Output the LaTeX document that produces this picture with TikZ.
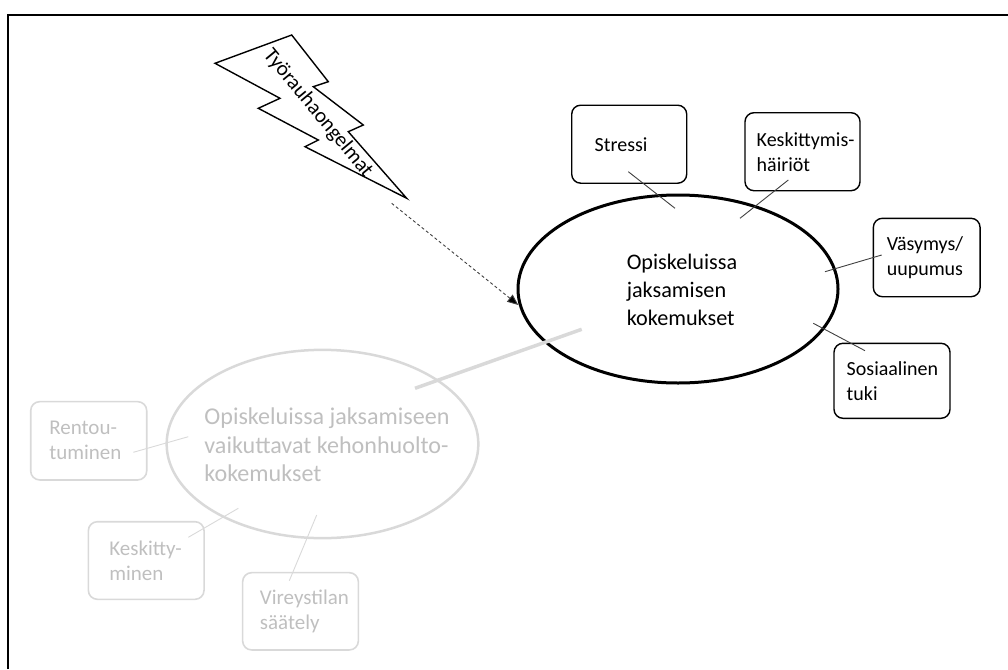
\documentclass[tikz,border=0pt]{standalone}
\usepackage{fontspec}
\setmainfont{Carlito}
\usetikzlibrary{shapes.geometric,arrows.meta}
\definecolor{linkdark}{HTML}{404040}
\definecolor{palegray}{HTML}{D9D9D9}
\definecolor{paletext}{HTML}{BFBFBF}
\tikzset{
  frameline/.style={draw=black, line width=2pt},
  bigoval/.style={ellipse, draw=black, line width=3pt, inner sep=0pt},
  paleoval/.style={ellipse, draw=palegray, line width=2.5pt, inner sep=0pt},
  bigtext/.style={align=left, inner sep=0pt, font=\fontsize{22.2}{28.3}\selectfont},
  darkbox/.style={draw=black, line width=1.4pt, rounded corners=9pt, align=left,
    inner sep=0pt, font=\fontsize{20}{25}\selectfont},
  palebox/.style={draw=palegray, line width=1.6pt, rounded corners=9pt, align=left,
    inner sep=0pt, text=paletext, font=\fontsize{21}{25}\selectfont},
  darklink/.style={draw=linkdark, line width=0.9pt},
  palelink/.style={draw=palegray, line width=0.9pt},
  bolt/.style={draw=black, line width=1.4pt, line join=miter, fill=white},
}
\begin{document}
\begin{tikzpicture}[x=1pt,y=-1pt]
\useasboundingbox (0,0) rectangle (1008,669);

% outer frame (top and left edges)
\draw[frameline] (8,669) -- (8,15) -- (1008,15);

% lightning bolt with its label
\draw[bolt] (215,63.3) -- (291.7,35) -- (328.3,81.7) -- (313.3,86.7)
  -- (363.3,125) -- (348.3,131.7) -- (406.7,198.3) -- (305,146.7)
  -- (318.3,140) -- (258.3,108.3) -- (280,98.3) -- cycle;
\node[rotate=-50.4, inner sep=0pt, font=\fontsize{21}{25}\selectfont] (bolttxt) at (318,113.5) {Työrauhaongelmat};

% central oval
\node[bigoval, minimum width=320pt, minimum height=188pt] (jak) at (678,289) {};
\node[bigtext] (jaktxt) at (682,290) {Opiskeluissa\\jaksamisen\\kokemukset};

% pale oval
\node[paleoval, minimum width=311.7pt, minimum height=188.3pt] (keho) at (322.5,444) {};
\node[bigtext, text=paletext, font=\fontsize{24.1}{28.3}\selectfont] (kehotxt) at (327,445) {Opiskeluissa jaksamiseen\\vaikuttavat kehonhuolto-\\kokemukset};

% dark boxes
\node[darkbox, minimum width=115pt, minimum height=78pt, text width=69pt] (stressi) at (629.2,144.2) {Stressi};
\node[darkbox, minimum width=115pt, minimum height=78pt, text width=91.6pt] (kesk) at (802.5,151.7) {\mbox{Keskittymis-}\\häiriöt};
\node[darkbox, minimum width=106.7pt, minimum height=78.4pt, text width=79.9pt] (vasy) at (926.7,257.5) {\mbox{Väsymys/}\\uupumus};
\node[darkbox, minimum width=116pt, minimum height=75pt, text width=90.6pt] (sosi) at (892,380.8) {\mbox{Sosiaalinen}\\tuki};

% pale boxes
\node[palebox, minimum width=116pt, minimum height=78.3pt, text width=78.8pt] (rent) at (88.7,440.8) {\mbox{Rentou-}\\tuminen};
\node[palebox, minimum width=115.7pt, minimum height=77.6pt, text width=73.7pt] (keskt) at (146.2,560.5) {\mbox{Keskitty-}\\minen};
\node[palebox, minimum width=115.7pt, minimum height=77.3pt, text width=81.1pt] (vire) at (300.5,611.3) {\mbox{Vireystilan}\\säätely};

% connector end points
\coordinate (stressi-in) at (628.3,171.7);  \coordinate (jak-s) at (675,208.3);
\coordinate (kesk-in) at (788.3,180);      \coordinate (jak-k) at (740,218.3);
\coordinate (vasy-in) at (881.7,255);      \coordinate (jak-v) at (825,271.7);
\coordinate (sosi-in) at (865,350.7);      \coordinate (jak-so) at (813.3,323.3);
\coordinate (rent-in) at (133.3,452.3);    \coordinate (keho-r) at (188.3,436.7);
\coordinate (keskt-in) at (188.3,537.3);   \coordinate (keho-k) at (238.3,508.3);
\coordinate (vire-in) at (289.3,580.7);    \coordinate (keho-v) at (316.7,515);
\coordinate (keho-j) at (415,388.3);       \coordinate (jak-p) at (581.7,329.3);
\coordinate (bolt-tip) at (391.7,203.3);   \coordinate (jak-b) at (518.3,305);

% dark connectors
\draw[darklink] (stressi-in) -- (jak-s);
\draw[darklink] (kesk-in) -- (jak-k);
\draw[darklink] (vasy-in) -- (jak-v);
\draw[darklink] (sosi-in) -- (jak-so);

% pale connectors
\draw[palelink] (rent-in) -- (keho-r);
\draw[palelink] (keskt-in) -- (keho-k);
\draw[palelink] (vire-in) -- (keho-v);
\draw[draw=palegray, line width=3.5pt] (keho-j) -- (jak-p);

% dashed arrow from the bolt
\draw[draw=linkdark, line width=0.9pt, dash pattern=on 3pt off 2.5pt,
  -{Triangle[length=11pt, width=9pt, fill=black]}] (bolt-tip) -- (jak-b);
\end{tikzpicture}
\end{document}
